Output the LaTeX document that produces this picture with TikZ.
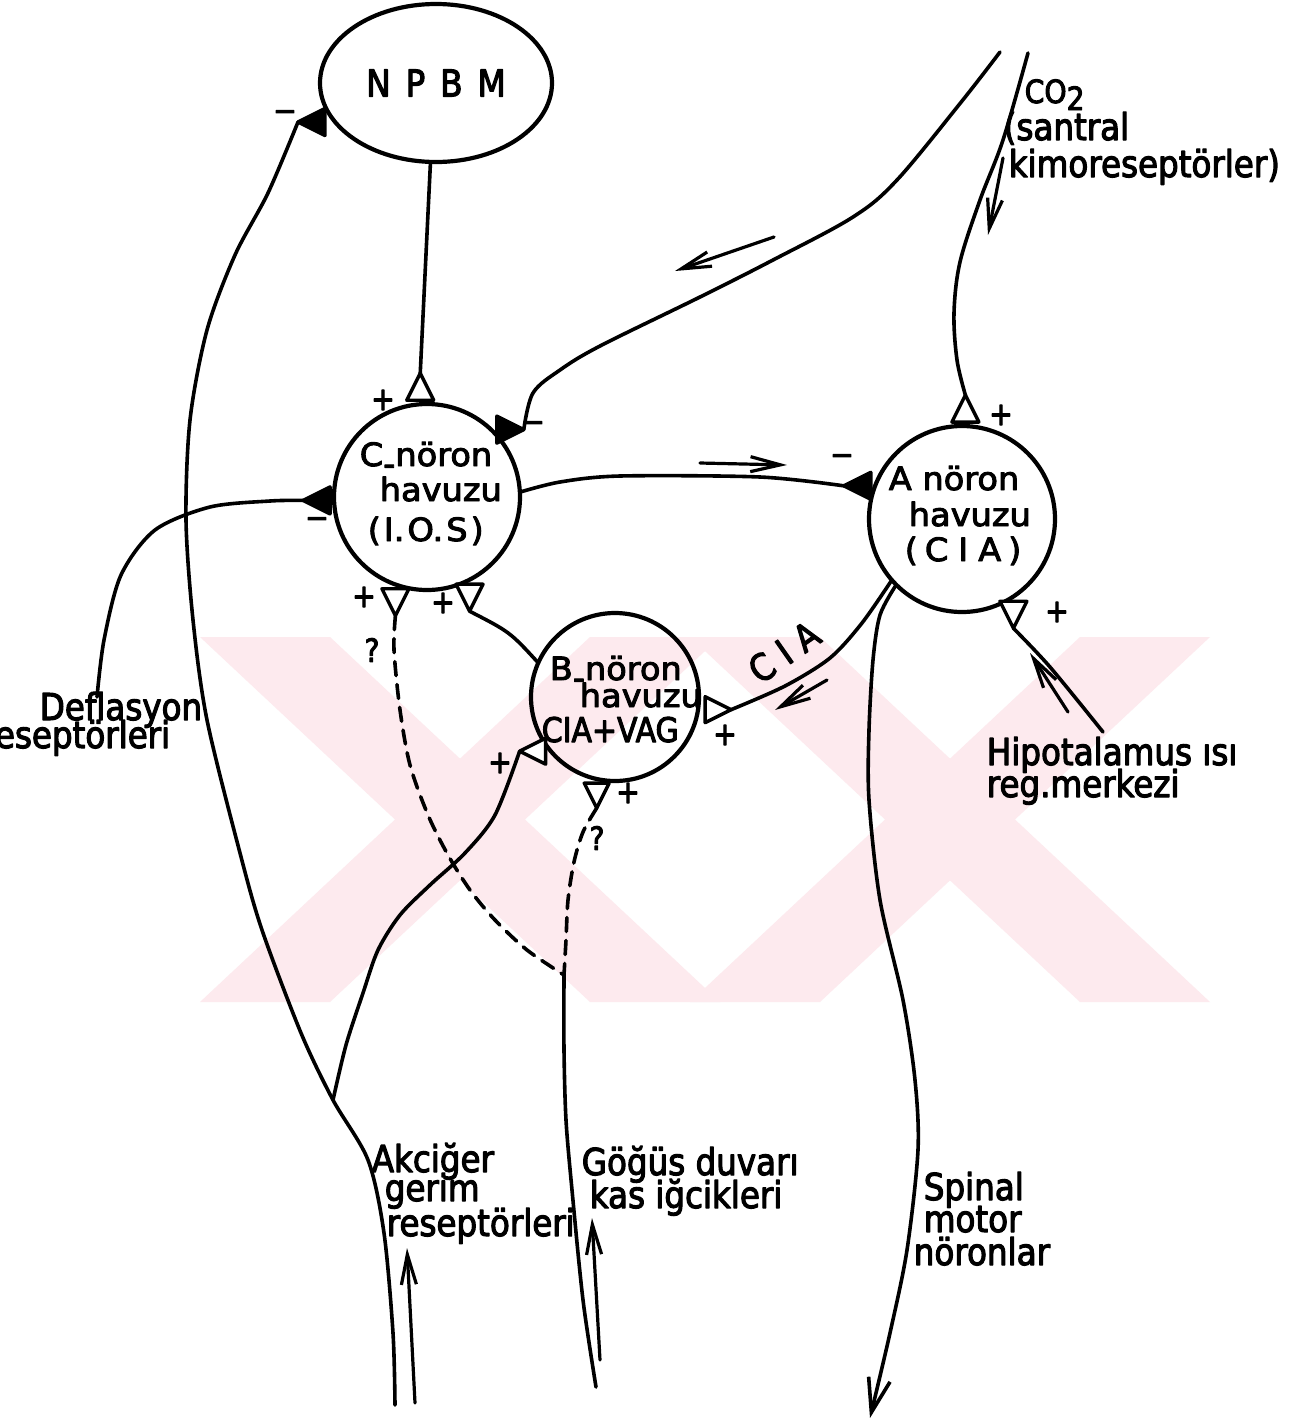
\documentclass[tikz,border=0pt]{standalone}
\usepackage{fontspec}
\setmainfont{DejaVu Sans}[FakeStretch=0.88,FakeBold=3]
\newfontfamily\cfont{DejaVu Sans}[FakeStretch=1.05,FakeBold=3]
\newfontfamily\spfont{DejaVu Sans}[FakeStretch=0.88,FakeBold=3,LetterSpace=30]
\usetikzlibrary{shapes.geometric,arrows.meta,calc}
\definecolor{wm}{RGB}{253,234,238}
\begin{document}
\begin{tikzpicture}[x=1pt,y=1pt, line width=3.6pt, line cap=round, line join=round,
  pool/.style={draw, line width=4.2pt, inner sep=0pt, outer sep=0pt},
  syn/.style={isosceles triangle, isosceles triangle stretches, minimum width=27pt, minimum height=27pt, inner sep=0pt, outer sep=0pt, draw, line width=3.4pt, anchor=lower side},
  exc/.style={syn, fill=white},
  inh/.style={syn, fill=black},
  lbl/.style={inner sep=0pt, anchor=base west, font=\fontsize{37}{40}\selectfont},
  ctxt/.style={inner sep=0pt, anchor=base west, font=\cfont\fontsize{32}{34}\selectfont},
  sgn/.style={inner sep=0pt, font=\fontsize{32}{32}\selectfont},
  flow/.style={line width=3.2pt, -{Straight Barb[length=30pt,width=15pt]}},
  dsh/.style={dash pattern=on 14pt off 9pt}
]
\path[use as bounding box] (0,0) rectangle (1307,-1425);
\clip (0,0) rectangle (1307,-1425);
\fill[white] (0,0) rectangle (1307,-1425);
% watermark
\fill[wm] (200,-637) -- (330,-637) -- (720,-1002) -- (590,-1002) -- cycle;
\fill[wm] (590,-637) -- (720,-637) -- (330,-1002) -- (200,-1002) -- cycle;
\fill[wm] (690,-637) -- (820,-637) -- (1210,-1002) -- (1080,-1002) -- cycle;
\fill[wm] (1080,-637) -- (1210,-637) -- (820,-1002) -- (690,-1002) -- cycle;

% pools
\node[pool, ellipse, minimum width=232pt, minimum height=158pt, font=\fontsize{37}{37}\selectfont] (npbm) at (436,-83) {N\kern15pt P\kern15pt B\kern15pt M};
\node[pool, circle, minimum size=186pt] (C) at (427,-497) {};
\node[pool, circle, minimum size=186pt] (A) at (962,-519) {};
\node[pool, circle, minimum size=168pt] (B) at (615,-697) {};

% pool texts
\node[ctxt] (c1) at (358,-466) {C\raisebox{-9pt}{-}nöron};
\node[ctxt] (c2) at (378,-501) {havuzu};
\node[ctxt] (c3) at (366,-541) {(\kern3pt I.\kern3pt O.\kern3pt S\kern3pt)};
\node[ctxt] (a1) at (887,-490) {A nöron};
\node[ctxt] (a2) at (907,-526) {havuzu};
\node[ctxt] (a3) at (903,-561) {(\kern7pt C\kern10pt I\kern10pt A\kern7pt)};
\node[ctxt] (b1) at (548,-680) {B\raisebox{-9pt}{-}nöron};
\node[ctxt] (b2) at (578,-707) {havuzu};
\node[inner sep=0pt, anchor=base west, font=\fontsize{34}{36}\selectfont] (b3) at (540,-742) {CIA+VAG};

% synapses
\node[exc, shape border rotate=94] (tC1) at ($(C.center)+(94:97)$) {};
\node[inh, shape border rotate=44] (tC2) at ($(C.center)+(44:97)$) {};
\node[inh, shape border rotate=182] (tC3) at ($(C.center)+(182:97)$) {};
\node[exc, shape border rotate=258] (tC4) at ($(C.center)+(251:97)$) {};
\node[exc, shape border rotate=303] (tC5) at ($(C.center)+(296:97)$) {};
\node[exc, shape border rotate=90] (tA1) at ($(A.center)+(88:97)$) {};
\node[inh, shape border rotate=166] (tA2) at ($(A.center)+(160:97)$) {};
\node[exc, shape border rotate=310] (tA3) at ($(A.center)+(302:97)$) {};
\node[exc, shape border rotate=5, minimum width=26pt, minimum height=26pt] (tB1) at ($(B.center)+(-8:91)$) {};
\node[exc, shape border rotate=222, minimum width=26pt, minimum height=26pt] (tB2) at ($(B.center)+(218:88)$) {};
\node[exc, shape border rotate=256, minimum width=25pt, minimum height=25pt] (tB3) at ($(B.center)+(258:88)$) {};
\node[inh, shape border rotate=216] (tN) at (325,-122) {};

% free ends
\coordinate (co2a) at (1000,-52);
\coordinate (co2b) at (1028,-53);
\coordinate (defl) at (97,-697);
\coordinate (akbot) at (395,-1405);
\coordinate (j1) at (333,-1100);
\coordinate (j2) at (564,-975);
\coordinate (gbot) at (596,-1387);
\coordinate (spbot) at (870,-1418);
\coordinate (hip) at (1103,-732);

% connectors
\draw (npbm.266) -- (tC1.apex);
\draw plot[smooth, tension=0.55] coordinates {(co2a) (962,-101) (897,-180) (853,-217) (773,-260) (700,-297) (600,-346) (560,-370) (533,-393) (tC2.apex)};
\draw plot[smooth, tension=0.55] coordinates {(co2b) (1003,-140) (980,-200) (960,-262) (954,-313) (957,-360) (tA1.apex)};
\draw plot[smooth] coordinates {(C.3) (560,-482) (620,-476) (760,-477) (tA2.apex)};
\draw plot[smooth] coordinates {(defl) (104,-640) (121,-575) (155,-530) (210,-507) (270,-501) (tC3.apex)};
\draw plot[smooth] coordinates {(akbot) (393,-1333) (384,-1233) (368,-1160) (j1) (301,-1033) (262,-930) (240,-853) (207,-720) (193,-620) (186,-520) (190,-420) (207,-330) (235,-255) (268,-193) (tN.apex)};
\draw plot[smooth] coordinates {(j1) (346,-1045) (363,-993) (378,-950) (400,-915) (430,-885) (465,-853) (495,-815) (tB2.apex)};
\draw[dsh] plot[smooth] coordinates {(tC4.apex) (394,-650) (400,-710) (410,-765) (428,-815) (448,-855) (470,-890) (495,-920) (527,-950) (j2)};
\draw[dsh] plot[smooth] coordinates {(tB3.apex) (583,-832) (574,-862) (568,-900) (566,-940) (j2)};
\draw plot[smooth] coordinates {(j2) (564,-1050) (566,-1120) (572,-1190) (583,-1300) (gbot)};
\draw (B.156) .. controls (510,-632) .. (tC5.apex);
\draw plot[smooth] coordinates {(A.221) (862,-623) (830,-658) (785,-686) (tB1.apex)};
\draw[-{Straight Barb[length=34pt,width=22pt]}] plot[smooth] coordinates {(A.225) (880,-615) (873,-660) (869,-730) (869,-800) (880,-900) (903,-1000) (915,-1080) (918,-1150) (907,-1250) (890,-1333) (spbot)};
\draw plot[smooth] coordinates {(hip) (1050,-667) (tA3.apex)};

% flow arrows
\coordinate (fa1s) at (774,-237); \coordinate (fa1e) at (675,-271);
\coordinate (fa2s) at (1003,-158); \coordinate (fa2e) at (988,-235);
\coordinate (fa3s) at (700,-463); \coordinate (fa3e) at (787,-465);
\coordinate (fa4s) at (827,-680); \coordinate (fa4e) at (775,-710);
\coordinate (fa5s) at (1068,-712); \coordinate (fa5e) at (1030,-653);
\coordinate (fa6s) at (415,-1403); \coordinate (fa6e) at (407,-1248);
\coordinate (fa7s) at (600,-1360); \coordinate (fa7e) at (592,-1218);
\draw[flow] (fa1s) -- (fa1e);
\draw[flow] (fa2s) -- (fa2e);
\draw[flow] (fa3s) -- (fa3e);
\draw[flow] (fa4s) -- (fa4e);
\draw[flow] (fa5s) -- (fa5e);
\draw[flow] (fa6s) -- (fa6e);
\draw[flow] (fa7s) -- (fa7e);

% signs
\node[sgn] (sN) at (285,-116) {−};
\node[sgn] (s1) at (383,-400) {+};
\node[sgn] (s2) at (533,-427) {−};
\node[sgn] (s3) at (317,-523) {−};
\node[sgn] (s4) at (364,-597) {+};
\node[sgn] (s5) at (443,-603) {+};
\node[sgn] (s6) at (1001,-415) {+};
\node[sgn] (s7) at (842,-460) {−};
\node[sgn] (s8) at (1057,-612) {+};
\node[sgn] (s9) at (725,-735) {+};
\node[sgn] (s10) at (500,-763) {+};
\node[sgn] (s11) at (628,-793) {+};
\node[sgn] (q1) at (372,-650) {?};
\node[sgn] (q2) at (597,-838) {?};

% labels
\node[inner sep=0pt, rotate=35, font=\spfont\fontsize{37}{40}\selectfont] (cia) at (784,-652) {CIA};
\node[lbl, font=\fontsize{32}{34}\selectfont] (l1) at (1023,-103) {CO\raisebox{-7pt}{2}};
\node[lbl] (l2) at (1002,-140) {(santral};
\node[lbl] (l3) at (1007,-177) {kimoreseptörler)};
\node[lbl] (l4) at (38,-720) {Deflasyon};
\node[lbl, anchor=base east] (l5) at (172,-748) {reseptörleri};
\node[lbl] (l6) at (985,-765) {Hipotalamus ısı};
\node[lbl] (l7) at (985,-797) {reg.merkezi};
\node[lbl] (l8) at (370,-1172) {Akciğer};
\node[lbl] (l9) at (383,-1201) {gerim};
\node[lbl] (l10) at (385,-1236) {reseptörleri};
\node[lbl] (l11) at (580,-1175) {Göğüs duvarı};
\node[lbl] (l12) at (588,-1208) {kas iğcikleri};
\node[lbl] (l13) at (922,-1200) {Spinal};
\node[lbl] (l14) at (922,-1232) {motor};
\node[lbl] (l15) at (912,-1265) {nöronlar};
\end{tikzpicture}
\end{document}
